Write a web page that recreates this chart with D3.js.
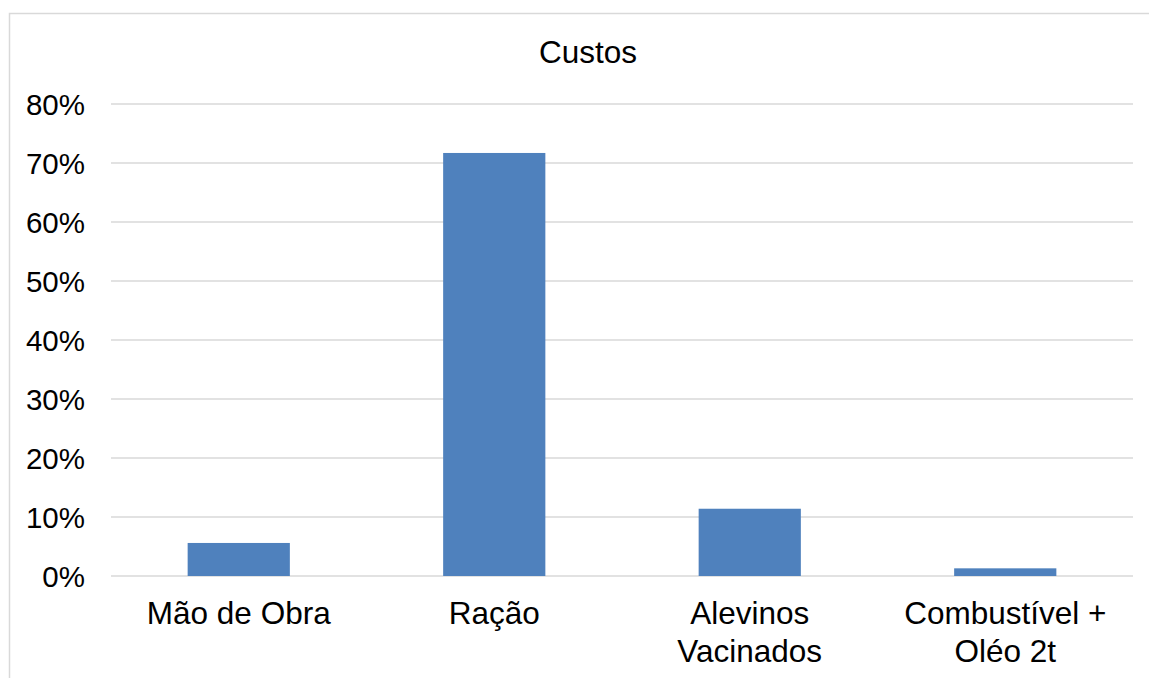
<!DOCTYPE html>
<html>
<head>
<meta charset="utf-8">
<script src="https://cdn.jsdelivr.net/npm/d3@7"></script>
<style>
  body { margin: 0; background: #fff; }
  svg { display: block; font-family: "Liberation Sans", Arial, sans-serif; }
</style>
</head>
<body>
<svg id="chart"></svg>
<script>
const width = 1149;
const height = 678;

const categories = [["Mão de Obra"], ["Ração"], ["Alevinos", "Vacinados"], ["Combustível +", "Oléo 2t"]];
const values = [0.056, 0.717, 0.114, 0.013];
const yTicks = [0, 0.1, 0.2, 0.3, 0.4, 0.5, 0.6, 0.7, 0.8];

const margin = { top: 104, right: 16, bottom: 102, left: 111 };

const svg = d3.select("#chart")
  .attr("width", width)
  .attr("height", height);

// chart border (right and bottom edges fall outside the picture)
svg.append("rect")
  .attr("x", 9.5)
  .attr("y", 13.5)
  .attr("width", width + 20)
  .attr("height", height + 20)
  .attr("fill", "none")
  .attr("stroke", "#d9d9d9")
  .attr("stroke-width", 1.5);

const xScale = d3.scaleBand()
  .domain(d3.range(categories.length))
  .range([margin.left, width - margin.right])
  .paddingInner(0.6)
  .paddingOuter(0.3);

const yScale = d3.scaleLinear()
  .domain([0, 0.8])
  .range([height - margin.bottom, margin.top]);

// gridlines
svg.append("g")
  .selectAll("line")
  .data(yTicks)
  .enter()
  .append("line")
  .attr("x1", margin.left)
  .attr("x2", width - margin.right)
  .attr("y1", d => yScale(d))
  .attr("y2", d => yScale(d))
  .attr("stroke", "#d9d9d9")
  .attr("stroke-width", 1.5);

// y labels
svg.append("g")
  .selectAll("text")
  .data(yTicks)
  .enter()
  .append("text")
  .attr("x", 85)
  .attr("y", d => yScale(d))
  .attr("dy", "0.36em")
  .attr("text-anchor", "end")
  .attr("font-size", 29.5)
  .attr("fill", "#000")
  .text(d => d3.format(".0%")(d));

// bars
svg.append("g")
  .selectAll("rect")
  .data(values)
  .enter()
  .append("rect")
  .attr("x", (d, i) => xScale(i))
  .attr("y", d => yScale(d))
  .attr("width", xScale.bandwidth())
  .attr("height", d => yScale(0) - yScale(d))
  .attr("fill", "#4f81bd");

// x labels
const xLabels = svg.append("g")
  .selectAll("text")
  .data(categories)
  .enter()
  .append("text")
  .attr("x", (d, i) => xScale(i) + xScale.bandwidth() / 2)
  .attr("y", 624)
  .attr("text-anchor", "middle")
  .attr("font-size", 31.5)
  .attr("fill", "#000");

xLabels.selectAll("tspan")
  .data(d => d)
  .enter()
  .append("tspan")
  .attr("x", function () { return d3.select(this.parentNode).attr("x"); })
  .attr("dy", (d, i) => i === 0 ? 0 : 38)
  .text(d => d);

// title
svg.append("text")
  .attr("x", 588)
  .attr("y", 63)
  .attr("text-anchor", "middle")
  .attr("font-size", 31.5)
  .attr("fill", "#000")
  .text("Custos");
</script>
</body>
</html>
